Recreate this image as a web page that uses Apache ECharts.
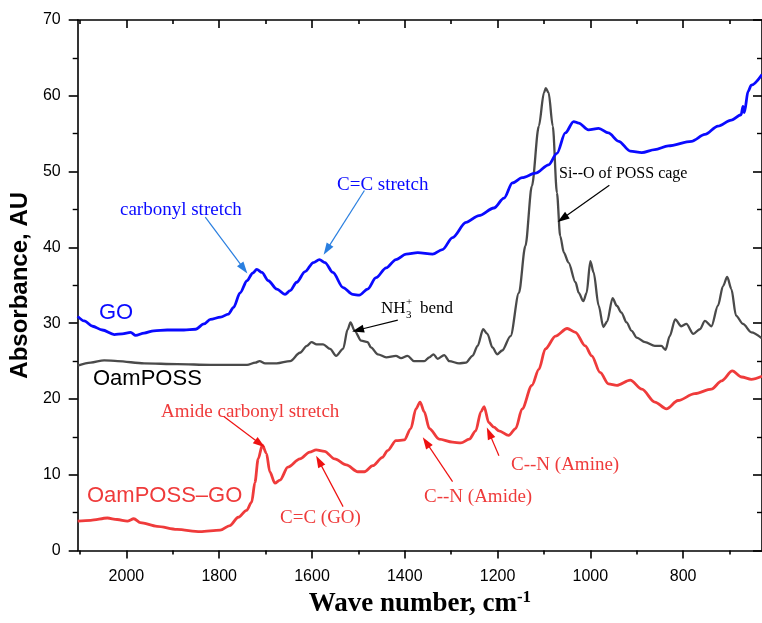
<!DOCTYPE html>
<html><head><meta charset="utf-8">
<script src="https://cdn.jsdelivr.net/npm/echarts@6/dist/echarts.min.js"></script>
<style>html,body{margin:0;padding:0;background:#fff}#c{width:762px;height:623px}</style>
</head><body><div id="c"></div>
<script>
// ---- tick values ----
const xMajorTicks = [2000, 1800, 1600, 1400, 1200, 1000, 800];
const xMinorTicks = [2100, 1900, 1700, 1500, 1300, 1100, 900, 700];

// ---- GO ----
const goWn = [2105,2091,2073,2052,2026,2009,1991,1980,1962,1941,1912,1876,1851,1833,1819,1797,1780,1769,1755,1740,1728,1719,1708,1694,1676,1658,1647,1633,1615,1597,1584,1572,1555,1533,1512,1498,1480,1462,1440,1419,1397,1372,1340,1319,1297,1268,1240,1208,1186,1168,1147,1118,1090,1072,1054,1036,1025,1004,982,961,939,914,889,861,832,782,753,725,696,675,671,668,660,653,630];
const goAbs = [30.9,30.3,29.6,29.1,28.5,28.6,28.8,28.4,28.7,29.0,29.1,29.1,29.2,29.9,30.5,30.8,31.2,32.1,34.0,35.6,36.6,37.1,36.7,35.6,34.5,33.8,34.3,35.4,36.8,38.0,38.4,38.0,36.7,34.7,33.8,33.7,34.5,36.0,37.3,38.4,39.1,39.3,39.1,39.7,41.3,43.3,44.2,45.2,46.5,48.5,49.2,49.8,50.9,52.4,55.1,56.6,56.4,55.5,55.7,55.1,54.0,52.7,52.5,52.9,53.4,54.0,54.9,56.0,56.8,57.5,58.6,57.8,60.6,61.4,62.8];

// ---- OamPOSS ----
const poWn = [2105,2077,2048,2019,1962,1890,1819,1740,1722,1713,1701,1676,1647,1626,1611,1601,1590,1576,1561,1548,1533,1523,1517,1508,1494,1480,1473,1458,1440,1419,1408,1394,1380,1358,1347,1338,1329,1315,1304,1283,1268,1254,1243,1231,1222,1211,1201,1190,1172,1154,1140,1126,1111,1100,1096,1090,1081,1072,1065,1057,1047,1032,1025,1015,1008,1000,993,982,972,964,952,943,933,922,911,900,882,861,847,838,829,817,804,793,778,764,753,739,725,714,705,696,686,671,653,630];
const poAbs = [24.4,24.8,25.1,25.0,24.7,24.6,24.5,24.5,24.8,25.0,24.7,24.7,25.0,26.1,27.0,27.5,27.2,27.2,26.6,25.7,26.6,29.2,30.1,29.0,27.7,27.5,26.8,25.9,25.5,25.7,25.4,25.7,25.0,25.0,25.5,25.9,25.3,25.8,25.0,24.7,24.8,25.7,27.0,29.2,28.6,26.8,25.9,26.4,28.3,34.0,40.2,48.1,56.0,60.4,61.0,60.4,56.0,47.2,41.5,39.3,38.0,35.4,34.0,32.9,34.0,38.2,36.7,32.3,29.5,30.2,33.3,32.3,31.4,30.1,29.0,28.1,27.5,27.0,27.0,26.5,28.3,30.5,29.6,29.9,28.6,29.2,30.3,29.6,32.3,34.9,36.1,34.5,31.0,29.9,28.8,28.0];

// ---- OamPOSS-GO ----
const pgWn = [2105,2077,2041,2020,1998,1984,1970,1934,1891,1841,1798,1777,1759,1741,1730,1723,1716,1707,1698,1691,1680,1669,1652,1626,1605,1591,1573,1551,1526,1501,1487,1469,1448,1437,1419,1401,1387,1376,1367,1358,1347,1326,1297,1279,1261,1247,1236,1229,1219,1208,1197,1176,1161,1147,1126,1111,1097,1075,1050,1032,1011,997,979,961,943,914,889,861,836,811,775,739,717,694,674,653,630];
const pgAbs = [3.9,4.0,4.3,4.1,3.9,4.2,3.7,3.2,2.8,2.5,2.7,3.3,4.4,5.3,6.4,9.0,12.1,13.9,12.8,10.4,8.9,9.3,11.0,12.1,13.0,13.3,13.1,12.1,11.3,10.4,10.4,11.2,12.3,13.2,14.5,14.6,16.1,18.7,19.6,18.3,16.1,14.7,14.3,14.2,14.7,15.8,18.3,19.0,16.9,16.3,15.8,15.2,16.1,18.7,21.8,23.9,26.6,28.3,29.3,28.8,27.0,25.7,23.5,22.0,21.8,22.5,21.3,19.6,18.7,19.8,20.7,21.3,22.4,23.7,22.9,22.6,23.0];

// ---- annotation arrows: [fromWn, fromAbs, toWn, toAbs] ----
const goArrows = [[1830, 44.0, 1747, 37.2], [1487, 47.5, 1568, 39.7]];
const poArrows = [[1415, 30.4, 1501, 29.1], [959, 48.2, 1060, 43.8]];
const pgArrows = [[1790, 17.7, 1712, 14.1], [1533, 5.8, 1585, 11.8], [1297, 9.1, 1354, 14.3], [1197, 12.5, 1218, 15.5]];

const zip = (a, b) => a.map((v, i) => [v, b[i]]);

const X_MIN = 630, X_MAX = 2105;
const AX = '#000';
function xAx(pos, ticks, len, inside, showLine, labels) {
  return {
    type: 'value', position: pos, inverse: true, min: X_MIN, max: X_MAX,
    axisLine: { show: showLine, onZero: false, lineStyle: { color: AX, width: 1.6 } },
    axisTick: { show: true, inside: inside, length: len, customValues: ticks, lineStyle: { color: AX, width: 1.6 } },
    axisLabel: labels ? { show: true, customValues: ticks, formatter: v => String(v), fontSize: 16, color: '#000', fontFamily: '"Liberation Sans", Arial', margin: 18 } : { show: false },
    splitLine: { show: false }
  };
}
function yAx(pos, inside, labels) {
  return {
    type: 'value', position: pos, min: 0, max: 70, interval: 10,
    axisLine: { show: true, onZero: false, lineStyle: { color: AX, width: 1.6 } },
    axisTick: { show: true, inside: inside, length: 9, lineStyle: { color: AX, width: 1.6 } },
    minorTick: { show: true, splitNumber: 2, length: 5, lineStyle: { color: AX, width: 1.4 } },
    axisLabel: labels ? { show: true, fontSize: 16, color: '#000', fontFamily: '"Liberation Sans", Arial', margin: 17 } : { show: false },
    splitLine: { show: false }
  };
}
function arrows(list, color) {
  return {
    silent: true, animation: false,
    symbol: ['none', 'triangle'], symbolSize: [8, 12],
    label: { show: false },
    lineStyle: { color: color, width: 1.2, type: 'solid' },
    data: list.map(a => [{ coord: [a[0], a[1]], symbol: 'none' }, { coord: [a[2], a[3]], symbol: 'triangle' }])
  };
}

const xb = xAx('bottom', xMajorTicks, 8, false, true, true);
xb.name = '{a|Wave number, cm}{b|-1}';
xb.nameLocation = 'middle';
xb.nameGap = 38;
xb.nameTextStyle = { rich: {
  a: { fontSize: 27, fontWeight: 'bold', fontFamily: '"Liberation Serif", "Times New Roman", serif', color: '#000', lineHeight: 30 },
  b: { fontSize: 17, fontWeight: 'bold', fontFamily: '"Liberation Serif", "Times New Roman", serif', color: '#000', lineHeight: 30, verticalAlign: 'top' }
}};
const yl = yAx('left', false, true);
yl.name = 'Absorbance, AU';
yl.nameLocation = 'middle';
yl.nameGap = 38;
yl.nameTextStyle = { fontSize: 24, fontWeight: 'bold', fontFamily: '"Liberation Sans", Arial', color: '#000' };

const serif = '"Liberation Serif", "Times New Roman", serif';
const sans = '"Liberation Sans", Arial, sans-serif';
function txt(x, y, s, color, size, fam) {
  return { type: 'text', x: x, y: y, silent: true, style: { text: s, fill: color, font: size + 'px ' + fam, textAlign: 'left', textVerticalAlign: 'middle', verticalAlign: 'middle' } };
}
const BLUE = '#0a0aff', GRAY = '#4a4a4a', RED = '#ef3b3b';

const option = {
  animation: false,
  backgroundColor: '#fff',
  grid: { left: 77, right: -2, top: 20, bottom: 71, containLabel: false },
  xAxis: [xb, xAx('bottom', xMinorTicks, 4, false, false, false), xAx('top', xMajorTicks, 8, true, true, false), xAx('top', xMinorTicks, 4, true, false, false)],
  yAxis: [yl, yAx('right', true, false)],
  series: [
    { type: 'line', name: 'GO', data: zip(goWn, goAbs), showSymbol: false, smooth: 0.3, smoothMonotone: 'x', lineStyle: { color: BLUE, width: 2.8 }, itemStyle: { color: BLUE }, markLine: arrows(goArrows, '#2a7fe0'), z: 3 },
    { type: 'line', name: 'OamPOSS', data: zip(poWn, poAbs), showSymbol: false, smooth: 0.3, smoothMonotone: 'x', lineStyle: { color: GRAY, width: 2.3 }, itemStyle: { color: GRAY }, markLine: arrows(poArrows, '#000'), z: 2 },
    { type: 'line', name: 'OamPOSS-GO', data: zip(pgWn, pgAbs), showSymbol: false, smooth: 0.3, smoothMonotone: 'x', lineStyle: { color: RED, width: 2.8 }, itemStyle: { color: RED }, markLine: arrows(pgArrows, '#ee1111'), z: 2 }
  ],
  graphic: [
    txt(99, 313, 'GO', BLUE, 22, sans),
    txt(93, 379, 'OamPOSS', '#000', 22, sans),
    txt(87, 496, 'OamPOSS\u2013GO', RED, 22, sans),
    txt(120, 210, 'carbonyl stretch', BLUE, 19, serif),
    txt(337, 185, 'C=C stretch', BLUE, 19, serif),
    txt(381, 309, 'NH', '#000', 17, serif),
    txt(406, 302, '+', '#000', 11, serif),
    txt(406, 315, '3', '#000', 11, serif),
    txt(420, 309, 'bend', '#000', 17, serif),
    txt(559, 174, 'Si--O of POSS cage', '#000', 16, serif),
    txt(161, 412, 'Amide carbonyl stretch', RED, 19, serif),
    txt(280, 518, 'C=C (GO)', RED, 19, serif),
    txt(424, 497, 'C--N (Amide)', RED, 19, serif),
    txt(511, 465, 'C--N (Amine)', RED, 19, serif)
  ]
};
const chart = echarts.init(document.getElementById('c'));
chart.setOption(option);
</script>
</body></html>
